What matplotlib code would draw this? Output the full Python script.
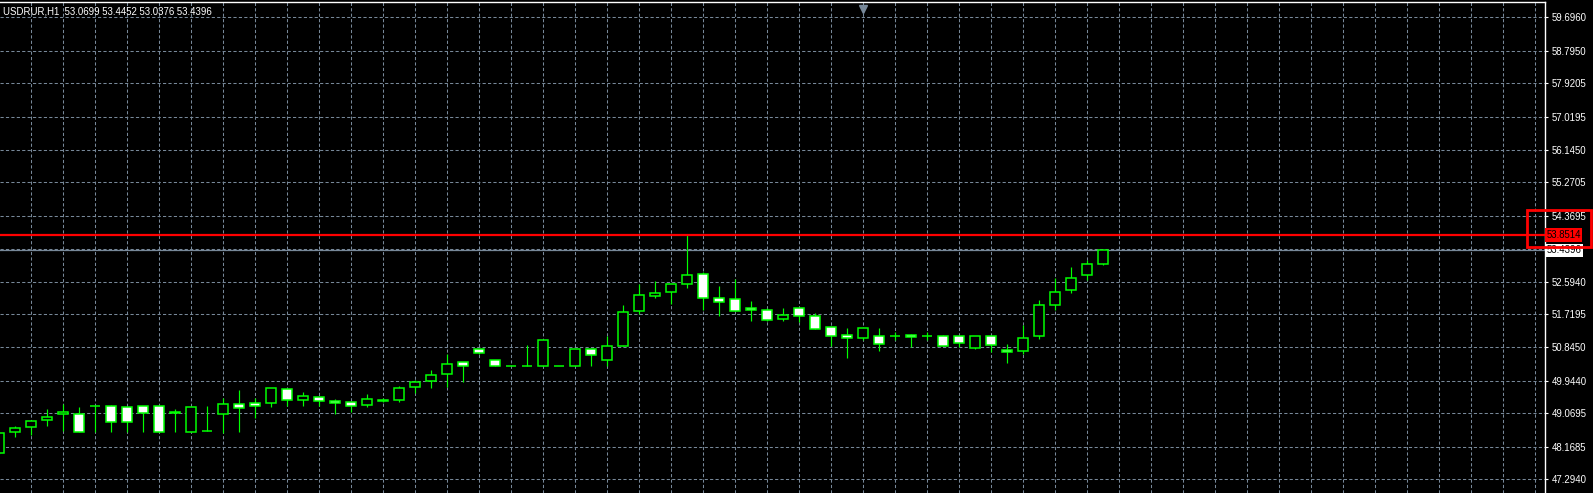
import matplotlib
matplotlib.use("Agg")
import matplotlib.pyplot as plt
from matplotlib.patches import Rectangle
import matplotlib.transforms as mtransforms

# Chart info
symbol = "USDRUR,H1"
level_price = 53.8514   # red horizontal line
bid_price = 53.4396     # last close

# Candle data (H1 bars, oldest first)
opens = [47.992, 48.556, 48.690, 48.894, 49.039, 49.047, 49.262, 49.254, 49.227, 49.254,
         49.254, 49.082, 48.572, 48.583, 49.039, 49.307, 49.334, 49.334, 49.710, 49.415,
         49.495, 49.388, 49.361, 49.281, 49.396, 49.415, 49.764, 49.925, 50.113, 50.435,
         50.784, 50.489, 50.328, 50.328, 50.328, 50.328, 50.328, 50.784, 50.489, 50.864,
         51.804, 52.207, 52.314, 52.529, 52.797, 52.153, 52.126, 51.885, 51.831, 51.589,
         51.885, 51.670, 51.375, 51.160, 51.079, 51.133, 51.133, 51.160, 51.133, 51.133,
         51.133, 50.811, 51.133, 50.757, 50.730, 51.133, 51.965, 52.368, 52.771, 53.0699]
highs = [48.564, 48.725, 48.886, 49.181, 49.307, 49.235, 49.262, 49.289, 49.227, 49.254,
         49.254, 49.181, 49.227, 49.262, 49.468, 49.691, 49.468, 49.737, 49.710, 49.630,
         49.495, 49.442, 49.361, 49.576, 49.468, 49.791, 49.952, 50.228, 50.658, 50.435,
         50.784, 50.489, 50.330, 50.899, 51.026, 50.330, 50.784, 50.784, 51.133, 51.965,
         52.529, 52.609, 52.529, 53.8514, 52.867, 52.475, 52.663, 52.073, 51.885, 51.885,
         51.885, 51.750, 51.375, 51.350, 51.348, 51.356, 51.240, 51.187, 51.240, 51.160,
         51.133, 51.133, 51.133, 50.918, 51.428, 52.099, 52.690, 52.985, 53.173, 53.4452]
lows = [47.973, 48.438, 48.483, 48.733, 48.591, 48.572, 48.572, 48.572, 48.572, 48.572,
        48.572, 48.572, 48.572, 48.583, 48.545, 48.572, 48.932, 49.227, 49.262, 49.262,
        49.262, 49.039, 49.093, 49.227, 49.377, 49.361, 49.603, 49.737, 49.764, 49.898,
        50.650, 50.328, 50.325, 50.328, 50.328, 50.325, 50.328, 50.328, 50.328, 50.864,
        51.724, 52.153, 51.992, 52.422, 51.831, 51.670, 51.804, 51.536, 51.536, 51.536,
        51.509, 51.321, 50.859, 50.537, 51.034, 50.746, 51.026, 50.838, 51.026, 50.864,
        50.838, 50.784, 50.703, 50.408, 50.650, 51.052, 51.831, 52.287, 52.636, 53.0376]
closes = [48.529, 48.663, 48.851, 48.958, 49.101, 48.572, 49.262, 48.840, 48.840, 49.082,
          48.572, 49.101, 49.227, 48.583, 49.307, 49.200, 49.254, 49.737, 49.415, 49.522,
          49.388, 49.334, 49.254, 49.442, 49.415, 49.737, 49.898, 50.086, 50.381, 50.328,
          50.677, 50.328, 50.328, 50.328, 51.026, 50.328, 50.784, 50.623, 50.864, 51.777,
          52.234, 52.287, 52.529, 52.771, 52.153, 52.046, 51.804, 51.831, 51.562, 51.697,
          51.670, 51.321, 51.128, 51.079, 51.348, 50.918, 51.133, 51.106, 51.133, 50.864,
          50.945, 51.133, 50.891, 50.703, 51.079, 51.965, 52.314, 52.690, 53.066, 53.4396]

# Price scale labels on the right
price_ticks = [59.6960, 58.7950, 57.9205, 57.0195, 56.1450, 55.2705, 54.3695, 53.4815,
               52.5940, 51.7195, 50.8450, 49.9440, 49.0695, 48.1685, 47.2940]
price_labels = ["59.6960", "58.7950", "57.9205", "57.0195", "56.1450", "55.2705", "54.3695", "",
                "52.5940", "51.7195", "50.8450", "49.9440", "49.0695", "48.1685", "47.2940"]

# Colors (MT4 green on black)
bg = "black"
bar_color = "#00ff00"
grid_color = "#778899"
text_color = "white"

plt.rcParams['font.family'] = ['Liberation Sans', 'DejaVu Sans']
plt.rcParams['lines.scale_dashes'] = False

fig = plt.figure(figsize=(15.93, 4.93), dpi=100)
fig.patch.set_facecolor(bg)

W, H = 1593.0, 493.0
ax = fig.add_axes([0, 0, 1545 / W, (H - 2) / H])
ax.set_facecolor(bg)

# candles
body_w = 0.62
for i in range(len(opens)):
    o, h, l, c = opens[i], highs[i], lows[i], closes[i]
    ax.vlines(i, l, h, color=bar_color, linewidth=0.85, zorder=3)
    face = "black" if c >= o else "white"
    y0 = min(o, c)
    ax.add_patch(Rectangle((i - body_w / 2, y0), body_w, abs(c - o),
                           facecolor=face, edgecolor=bar_color, linewidth=1.1, zorder=4))

# horizontal level and bid line
ax.axhline(level_price, color="red", linewidth=1.6, zorder=5)
ax.axhline(bid_price, color=grid_color, linewidth=0.9, zorder=2)

# axes limits and grid
ax.set_xlim(0.044, 96.61)
ax.set_ylim(46.926, 60.107)
ax.set_xticks(range(2, 97, 2))
ax.set_yticks(price_ticks)
ax.set_yticklabels(price_labels)
ax.grid(True, color=grid_color, linewidth=0.75, linestyle=(0, (2.3, 1.6)))
ax.set_axisbelow(True)

ax.yaxis.tick_right()
ax.tick_params(axis="y", colors=text_color, labelsize=6.9, length=2.5, width=0.8, pad=2.5)
ax.tick_params(axis="x", bottom=False, labelbottom=False)
for lbl in ax.get_yticklabels():
    lbl.set_color(text_color)

for side in ["left", "bottom"]:
    ax.spines[side].set_visible(False)
for side in ["top", "right"]:
    ax.spines[side].set_color("white")
    ax.spines[side].set_linewidth(1.0)

# price labels on the scale
trans = mtransforms.blended_transform_factory(ax.transAxes, ax.transData)
ax.text(1.0008, level_price, "53.8514", transform=trans, color="black", fontsize=6.9,
        va="center", ha="left", clip_on=False, zorder=10,
        bbox=dict(boxstyle="square,pad=0.18", fc="red", ec="none"))
ax.text(1.0008, bid_price, "53.4396", transform=trans, color="black", fontsize=6.9,
        va="center", ha="left", clip_on=False, zorder=10,
        bbox=dict(boxstyle="square,pad=0.18", fc="white", ec="none"))

# chart shift marker at top
ax.plot([54], [0.985], marker="v", color=grid_color, markersize=6,
        transform=mtransforms.blended_transform_factory(ax.transData, ax.transAxes),
        clip_on=False, zorder=6)

# header text
fig.text(3 / W, 1 - 11 / H, symbol + "  53.0699 53.4452 53.0376 53.4396",
         color=text_color, fontsize=6.9, ha="left", va="center")

# red highlight box around the level label
fig.add_artist(Rectangle((1527 / W, (H - 247) / H), 64 / W, 37 / H,
                         transform=fig.transFigure, fill=False,
                         edgecolor="red", linewidth=2.0, zorder=20))

fig.savefig("out.png", dpi=100, facecolor=bg)
